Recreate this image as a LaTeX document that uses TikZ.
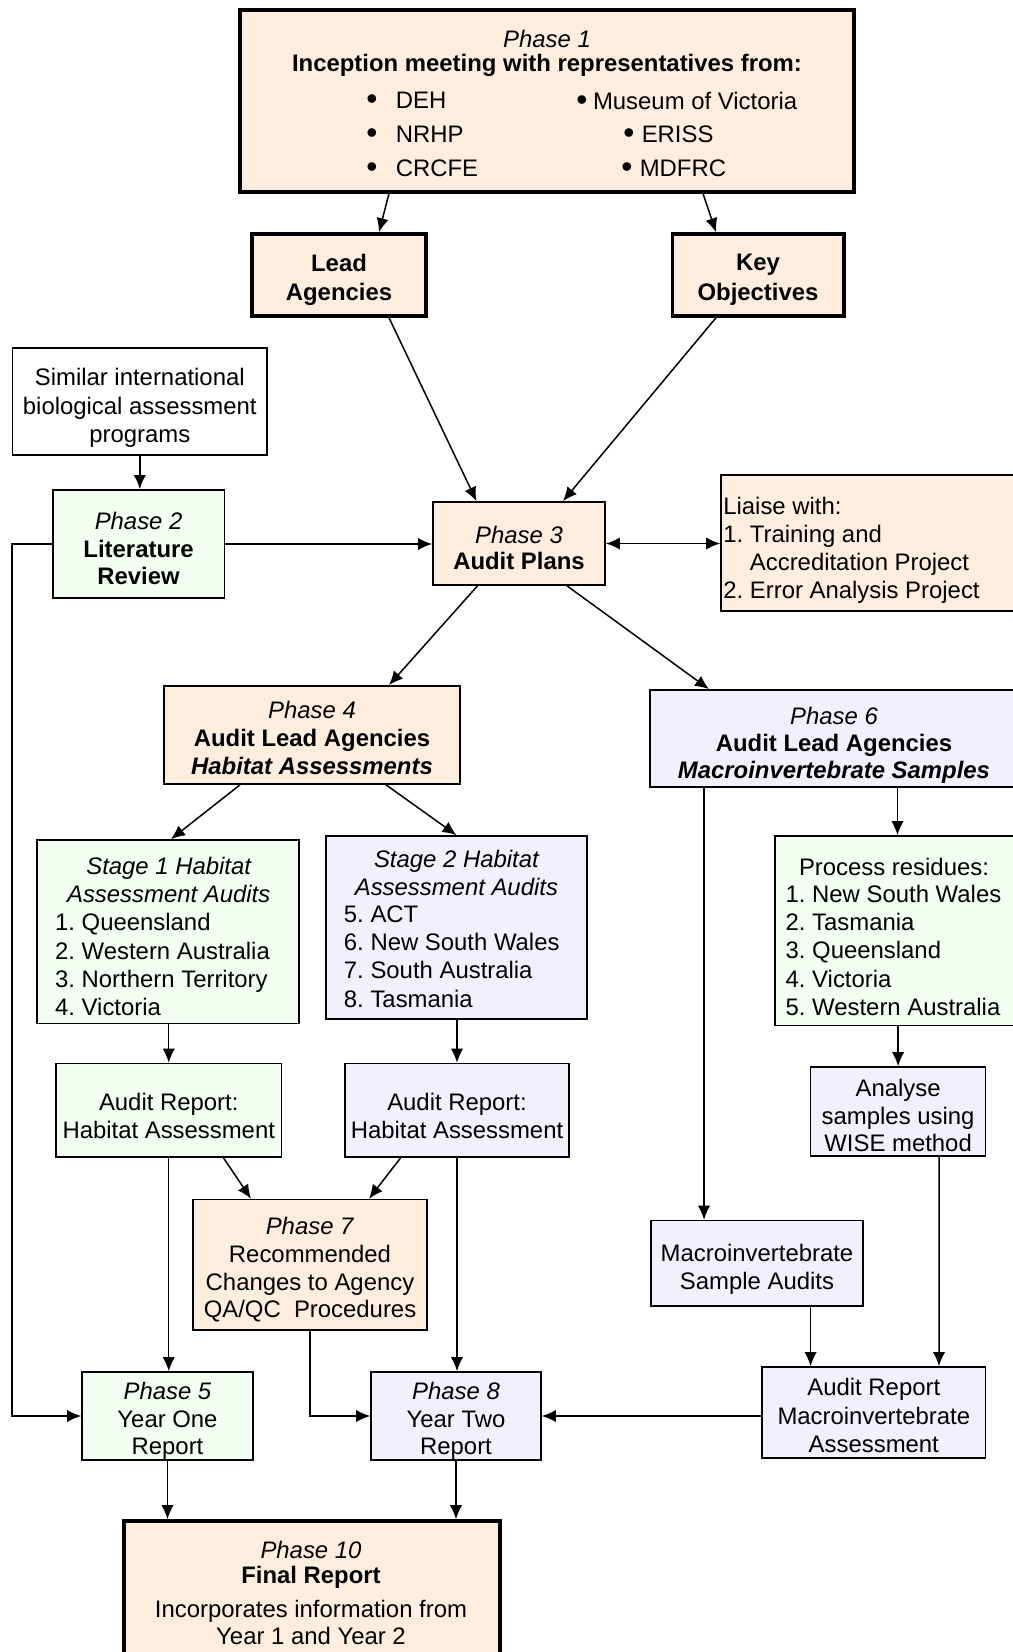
\documentclass[tikz,border=0pt]{standalone}
\usepackage{fontspec}
\setmainfont{Liberation Sans}
\usetikzlibrary{arrows.meta,calc}
\definecolor{peach}{HTML}{FFEEDD}
\definecolor{mint}{HTML}{F2FFF2}
\definecolor{lav}{HTML}{F0F0FF}
\newcommand\bS{\rule[-3pt]{0pt}{3pt}}
\newcommand\bul{{\fontsize{18pt}{18pt}\selectfont\raisebox{-0.5pt}{\textbullet}}}
\frenchspacing
\tikzset{
  box/.style={draw=black, line width=0.95pt, rectangle, inner sep=0pt},
  thick box/.style={box, line width=2pt},
  txt/.style={inner sep=0pt, align=center, font=\fontsize{13.6pt}{16pt}\selectfont},
  ltxt/.style={inner sep=0pt, align=left, anchor=west, font=\fontsize{13.6pt}{16pt}\selectfont},
  arr/.style={line width=0.85pt, -{Latex[length=8pt,width=7pt]}},
  darr/.style={line width=0.85pt, {Latex[length=8pt,width=7pt]}-{Latex[length=8pt,width=7pt]}},
  bw/.style={minimum width=#1*0.02cm},
  bh/.style={minimum height=#1*0.02cm},
}
\begin{document}
\begin{tikzpicture}[x=0.02cm,y=-0.02cm]
\useasboundingbox (0,0) rectangle (1013,1652);
\clip (0,0) rectangle (1013,1652);

% Phase 1
\node[thick box, fill=peach, bw=614, bh=182] (p1) at (547,100.75) {};
\node[txt] (p1a) at (547,39) {\itshape Phase 1};
\node[txt] (p1b) at (547,65.4) {\bfseries Inception meeting with representatives from:};
\node[ltxt] (b1) at (366,101.2) {\makebox[16.8pt][l]{\bul}DEH};
\node[ltxt] (b2) at (366,135) {\makebox[16.8pt][l]{\bul}NRHP};
\node[ltxt] (b3) at (366,168.7) {\makebox[16.8pt][l]{\bul}CRCFE};
\node[ltxt] (b4) at (576,101.2) {\makebox[9.5pt][l]{\bul}Museum of Victoria};
\node[ltxt] (b5) at (623,135) {\makebox[10.5pt][l]{\bul}ERISS};
\node[ltxt] (b6) at (621,168.7) {\makebox[10.5pt][l]{\bul}MDFRC};

% Lead / Key
\node[thick box, fill=peach, bw=174, bh=82] (lead) at (339,275) {};
\node[txt, font=\fontsize{13.6pt}{16.8pt}\selectfont\bfseries] (leadt) at ($(lead.center)+(0,5)$) {Lead\\Agencies\bS};
\node[thick box, fill=peach, bw=171.5, bh=82] (key) at (758,275) {};
\node[txt, font=\fontsize{13.6pt}{16.8pt}\selectfont\bfseries] (keyt) at ($(key.center)+(0,5)$) {Key\\Objectives\bS};

% Similar
\node[box, fill=white, bw=254.4, bh=107] (sim) at (139.8,401.5) {};
\node[txt, font=\fontsize{13.6pt}{16.2pt}\selectfont] (simt) at ($(sim.center)+(0,6.5)$) {Similar international\\biological assessment\\programs\bS};

% Phase 2
\node[box, fill=mint, bw=171.8, bh=108] (p2) at (138.6,544) {};
\node[txt, font=\fontsize{13.6pt}{15.6pt}\selectfont] (p2t) at ($(p2.center)+(0,7)$) {\textit{Phase 2}\\\textbf{Literature}\\\textbf{Review}\bS};

% Phase 3
\node[box, fill=peach, bw=172, bh=83] (p3) at (519,543.5) {};
\node[txt, font=\fontsize{13.6pt}{14.6pt}\selectfont] (p3t) at ($(p3.center)+(0,7)$) {\textit{Phase 3}\\\textbf{Audit Plans}\bS};

% Liaise
\node[box, fill=peach, bw=299, bh=136] (li) at (870.5,543) {};
\node[ltxt] (lit) at (723,550) {Liaise with:\\1. Training and\\\phantom{1. }Accreditation Project\\2. Error Analysis Project};

% Phase 4
\node[box, fill=peach, bw=296, bh=98] (p4) at (312,735) {};
\node[txt, font=\fontsize{13.6pt}{15.9pt}\selectfont] (p4t) at ($(p4.center)+(0,5.5)$) {\textit{Phase 4}\\\textbf{Audit Lead Agencies}\\\textbf{\textit{Habitat Assessments}}\bS};

% Phase 6
\node[box, fill=lav, bw=369, bh=97] (p6) at (834.5,738.5) {};
\node[txt, font=\fontsize{13.6pt}{15.3pt}\selectfont] (p6t) at (834,745) {\textit{Phase 6}\\\textbf{Audit Lead Agencies}\\\textbf{\textit{Macroinvertebrate Samples}}};

% Stage 1
\node[box, fill=mint, bw=262, bh=183.5] (s1) at (168,931.75) {};
\node[txt] (s1t) at (168.7,880.3) {\itshape Stage 1 Habitat\\\itshape Assessment Audits};
\node[ltxt] (s1l) at (54.8,964.6) {1. Queensland\\2. Western Australia\\3. Northern Territory\\4. Victoria};

% Stage 2
\node[box, fill=lav, bw=261, bh=183] (s2) at (456.5,927.5) {};
\node[txt] (s2t) at (456.4,872.8) {\itshape Stage 2 Habitat\\\itshape Assessment Audits};
\node[ltxt] (s2l) at (343.6,956.6) {5. ACT\\6. New South Wales\\7. South Australia\\8. Tasmania};

% Process residues
\node[box, fill=mint, bw=245, bh=189.6] (pr) at (897.5,930.8) {};
\node[txt] (prt) at (894,866.5) {Process residues:};
\node[ltxt] (prl) at (785.3,950.4) {1. New South Wales\\2. Tasmania\\3. Queensland\\4. Victoria\\5. Western Australia};

% Audit reports
\node[box, fill=mint, bw=225.5, bh=93.4] (ar1) at (168.75,1110.3) {};
\node[txt] (ar1t) at ($(ar1.center)+(0,8)$) {Audit Report:\\Habitat Assessment\bS};
\node[box, fill=lav, bw=224, bh=93.4] (ar2) at (457,1110.3) {};
\node[txt] (ar2t) at ($(ar2.center)+(0,8)$) {Audit Report:\\Habitat Assessment\bS};
\node[box, fill=lav, bw=175, bh=89] (an) at (898.1,1111.5) {};
\node[txt, font=\fontsize{13.6pt}{15.6pt}\selectfont] (ant) at ($(an.center)+(0,6.5)$) {Analyse\\samples using\\WISE method\bS};

% Phase 7
\node[box, fill=peach, bw=234, bh=130.4] (p7) at (310,1264.8) {};
\node[txt, font=\fontsize{13.6pt}{15.8pt}\selectfont] (p7t) at ($(p7.center)+(0,5.5)$) {\textit{Phase 7}\\Recommended\\Changes to Agency\\QA/QC\ \ Procedures\bS};

% Macro sample audits
\node[box, fill=lav, bw=212, bh=85.4] (msa) at (757,1263.3) {};
\node[txt] (msat) at ($(msa.center)+(0,6.5)$) {Macroinvertebrate\\Sample Audits\bS};

% Audit report macro
\node[box, fill=lav, bw=223.6, bh=91] (arm) at (873.8,1412.5) {};
\node[txt] (armt) at ($(arm.center)+(0,5.5)$) {Audit Report\\Macroinvertebrate\\Assessment\bS};

% Phase 5, 8
\node[box, fill=mint, bw=171, bh=88] (p5) at (167.5,1416) {};
\node[txt, font=\fontsize{13.6pt}{15.8pt}\selectfont] (p5t) at ($(p5.center)+(0,5)$) {\textit{Phase 5}\\Year One\\Report\bS};
\node[box, fill=lav, bw=170, bh=88] (p8) at (456,1416) {};
\node[txt, font=\fontsize{13.6pt}{15.8pt}\selectfont] (p8t) at ($(p8.center)+(0,5)$) {\textit{Phase 8}\\Year Two\\Report\bS};

% Phase 10
\node[thick box, fill=peach, bw=376, bh=149] (p10) at (312,1595.5) {};
\node[txt] (p10a) at (311,1549.5) {\itshape Phase 10};
\node[txt] (p10b) at (311,1577) {\bfseries Final Report};
\node[txt, font=\fontsize{13.6pt}{15.6pt}\selectfont] (p10c) at (311,1622.3) {Incorporates information from\\Year 1 and Year 2};

% Connectors
\draw[arr] ($(p1.south)+(-158,0)$) -- ($(lead.north)+(40,0)$);
\draw[arr] ($(p1.south)+(156,0)$) -- ($(key.north)+(-42,0)$);
\draw[arr] ($(lead.south)+(50,0)$) -- ($(p3.north)+(-42.5,0)$);
\draw[arr] ($(key.south)+(-42,0)$) -- ($(p3.north)+(44,0)$);
\draw[arr] (sim.south) -- (sim.south |- p2.north);
\draw[arr] (p2.east) -- (p2.east -| p3.west);
\draw[darr] (p3.east) -- (p3.east -| li.west);
\draw[arr] (p2.west) -- ++(-40,0) |- (p5.west);
\draw[arr] ($(p3.south)+(-41.5,0)$) -- ($(p4.north)+(77,0)$);
\draw[arr] ($(p3.south)+(48,0)$) -- ($(p6.north)+(-125.5,0)$);
\draw[arr] ($(p4.south)+(-72,0)$) -- ($(s1.north)+(3,0)$);
\draw[arr] ($(p4.south)+(74,0)$) -- (s2.north);
\draw[arr] ($(p6.south)+(-130.5,0)$) -- ($(msa.north)+(-53,0)$);
\draw[arr] (pr.north |- p6.south) -- (pr.north);
\draw[arr] (ar1.north |- s1.south) -- (ar1.north);
\draw[arr] (ar2.north |- s2.south) -- (ar2.north);
\draw[arr] (an.north |- pr.south) -- (an.north);
\draw[arr] ($(ar1.south)+(54.75,0)$) -- ($(p7.north)+(-59,0)$);
\draw[arr] ($(ar2.south)+(-56.4,0)$) -- ($(p7.north)+(59,0)$);
\draw[arr] (ar1.south) -- (ar1.south |- p5.north);
\draw[arr] (ar2.south) -- (ar2.south |- p8.north);
\draw[arr] (p7.south) |- (p8.west);
\draw[arr] ($(msa.south)+(53.6,0)$) -- ($(arm.north)+(-63.2,0)$);
\draw[arr] ($(an.south)+(41,0)$) -- ($(arm.north)+(65.2,0)$);
\draw[arr] (p8.east -| arm.west) -- (p8.east);
\draw[arr] (p5.south) -- (p5.south |- p10.north);
\draw[arr] (p8.south) -- (p8.south |- p10.north);
\end{tikzpicture}
\end{document}
